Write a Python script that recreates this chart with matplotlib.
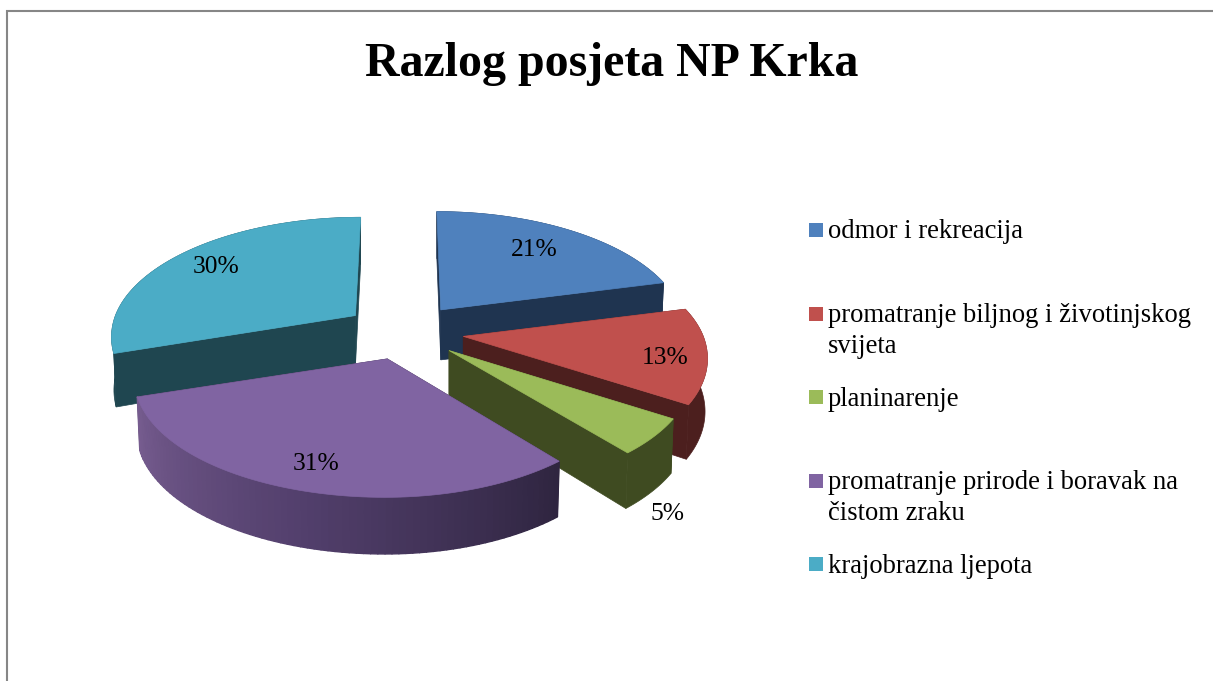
# Razlog posjeta NP Krka - exploded 3D pie drawn by hand
import numpy as np
import matplotlib
matplotlib.use('Agg')
import matplotlib.pyplot as plt
from matplotlib.collections import PolyCollection
from matplotlib.patches import Polygon, Rectangle

categories = ['odmor i rekreacija',
              'promatranje biljnog i životinjskog\nsvijeta',
              'planinarenje',
              'promatranje prirode i boravak na\nčistom zraku',
              'krajobrazna ljepota']
values = [21, 13, 5, 31, 30]
top_colors = ['#4F81BD', '#C0504D', '#9BBB59', '#8064A2', '#4BACC6']
wall_colors = ['#1F3450', '#4C1F1E', '#3F4B21', '#33273F', '#1F4650']
title = 'Razlog posjeta NP Krka'

# layout, in pixels of the 1213x681 picture
W, H = 1213, 681
cx, cy = 404, 332      # pie centre
rx, ry = 240, 117      # radii of the top ellipse
left_scale = [1, 1, 1, 1.04, 1]
explode_x, explode_y = 60, 28
persp = 0.155
label_pos = [(534, 250), (665, 358), (667, 514), (316, 464), (216, 267)]
legend_square_y = [223, 307, 390, 474, 557]
legend_base_y = [238, 322, 406, 489, 573]
line_step = 31
serif = 'Liberation Serif'

fig = plt.figure(figsize=(W/100, H/100), dpi=100)
ax = fig.add_axes([0, 0, 1, 1])
ax.set_xlim(0, W)
ax.set_ylim(H, 0)
ax.axis('off')


def rim(tip, a, scale, bottom=False):
    # points on the slice edge for angles a (clockwise from the back)
    s = 1/(1 + persp*np.cos(a))
    sx = np.where(np.sin(a) < 0, scale, 1)
    sy = np.where(np.cos(a) > 0, 0.97, 1)
    dx = sx*rx*np.sin(a)*s + 0.8*(tip[0] - cx)*(s - 1)
    dy = -sy*ry*np.cos(a)*s
    if bottom:
        return tip[0] + 0.99*dx, tip[1] + 0.99*dy + 52 - 6*np.cos(a)
    return tip[0] + dx, tip[1] + dy


def add_poly(pts, color, z):
    ax.add_patch(Polygon(pts, closed=True, fc=color, ec=color, lw=0.5, zorder=z))


def draw_slice(i, a0, a1, z):
    mid = (a0 + a1)/2
    tip = (cx + explode_x*np.sin(mid), cy - explode_y*np.cos(mid))
    tip_low = (tip[0], tip[1] + 50)
    a = np.linspace(a0, a1, 80)
    xt, yt = rim(tip, a, left_scale[i])
    xb, yb = rim(tip, a, left_scale[i], bottom=True)
    # flat walls along both cuts
    for k in (0, -1):
        add_poly([tip, (xt[k], yt[k]), (xb[k], yb[k]), tip_low], wall_colors[i], z)
    # outer rim, purple one has a dark to light gradient going left
    if categories[i].startswith('promatranje prirode'):
        quads = [[(xt[j], yt[j]), (xt[j+1], yt[j+1]), (xb[j+1], yb[j+1]), (xb[j], yb[j])]
                 for j in range(len(a)-1)]
        f = np.linspace(0, 1, len(quads))
        cols = np.column_stack([np.interp(f, [0, 0.5, 1], [47, 82, 118]),
                                np.interp(f, [0, 0.5, 1], [37, 63, 92]),
                                np.interp(f, [0, 0.5, 1], [64, 108, 143])])/255
        ax.add_collection(PolyCollection(quads, facecolors=cols, edgecolors=cols,
                                         linewidths=1.0, zorder=z))
    else:
        add_poly(list(zip(xt, yt)) + list(zip(xb[::-1], yb[::-1])), wall_colors[i], z)
    add_poly([tip] + list(zip(xt, yt)), top_colors[i], z + 0.5)


# slice angles come from the values
edges = 2*np.pi*np.cumsum([0] + values)/sum(values)
for z, i in enumerate([4, 0, 1, 2, 3]):
    draw_slice(i, edges[i], edges[i+1], z + 1)

for v, (x, y) in zip(values, label_pos):
    ax.text(x, y, str(v) + '%', family=serif, fontsize=18.4, ha='center', va='center',
            color='black', zorder=10)

ax.text(612, 76, title, family=serif, fontsize=34.5, fontweight='bold',
        ha='center', va='baseline', color='black')

# legend
for i, label in enumerate(categories):
    ax.add_patch(Rectangle((809, legend_square_y[i]), 14, 14, fc=top_colors[i], ec='none'))
    for n, line in enumerate(label.split('\n')):
        ax.text(828, legend_base_y[i] + n*line_step, line, family=serif, fontsize=19.2,
                ha='left', va='baseline', color='black')

# chart frame, only left and top show
ax.plot([6.5, 6.5, W], [H, 10.5, 10.5], color='#868686', lw=1.5, solid_joinstyle='miter')

fig.savefig('out.png', dpi=100, facecolor='white')
